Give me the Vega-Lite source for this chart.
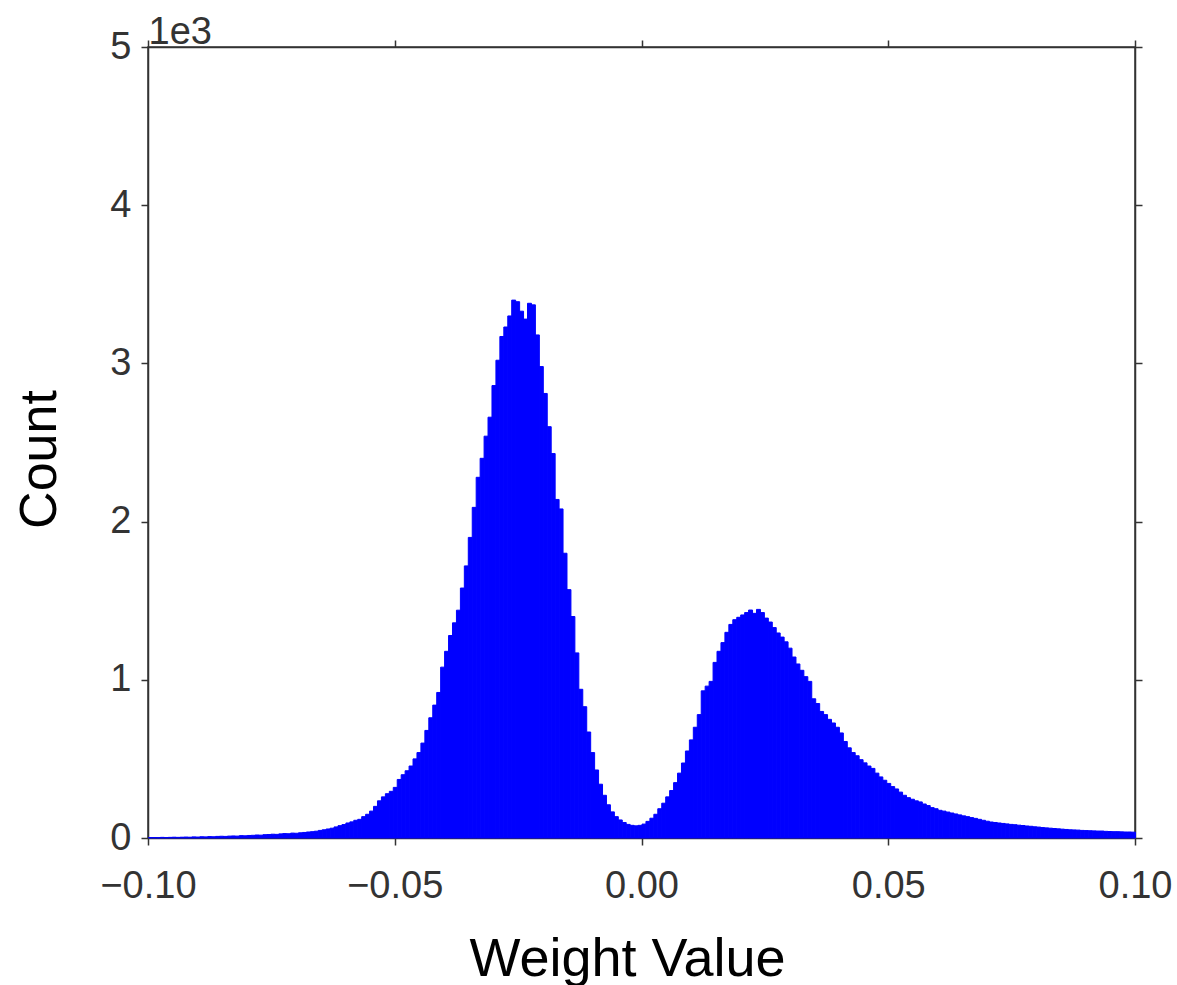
{
 "$schema": "https://vega.github.io/schema/vega-lite/v6.json",
 "width": 987, "height": 791,
 "autosize": {"type": "none"},
 "padding": {"left": 148, "top": 47, "right": 42, "bottom": 147},
 "background": "white",
 "config": {
  "view": {"stroke": "#333", "strokeWidth": 1.5},
  "font": "Liberation Sans",
  "axis": {"grid": false, "domainColor": "#333", "domainWidth": 1.5, "tickColor": "#333", "tickWidth": 1.5, "tickSize": 7,
   "labelFont": "Liberation Sans", "labelFontSize": 38, "labelColor": "#333", "labelFlush": false, "labelOverlap": false,
   "titleFont": "Liberation Sans", "titleFontSize": 52, "titleFontWeight": "normal", "titleColor": "#000"}
 },
 "data": {"values": [
{"lo":-0.1,"n":3},{"lo":-0.0992,"n":3},{"lo":-0.0984,"n":2},{"lo":-0.0976,"n":4},{"lo":-0.0968,"n":3},
{"lo":-0.096,"n":4},{"lo":-0.0952,"n":5},{"lo":-0.0944,"n":4},{"lo":-0.0936,"n":5},{"lo":-0.0928,"n":6},
{"lo":-0.092,"n":5},{"lo":-0.0912,"n":7},{"lo":-0.0904,"n":6},{"lo":-0.0896,"n":8},{"lo":-0.0888,"n":7},
{"lo":-0.088,"n":9},{"lo":-0.0872,"n":8},{"lo":-0.0864,"n":10},{"lo":-0.0856,"n":11},{"lo":-0.0848,"n":10},
{"lo":-0.084,"n":12},{"lo":-0.0832,"n":13},{"lo":-0.0824,"n":12},{"lo":-0.0816,"n":15},{"lo":-0.0808,"n":14},
{"lo":-0.08,"n":16},{"lo":-0.0792,"n":17},{"lo":-0.0784,"n":19},{"lo":-0.0776,"n":18},{"lo":-0.0768,"n":21},
{"lo":-0.076,"n":22},{"lo":-0.0752,"n":24},{"lo":-0.0744,"n":23},{"lo":-0.0736,"n":26},{"lo":-0.0728,"n":28},
{"lo":-0.072,"n":27},{"lo":-0.0712,"n":31},{"lo":-0.0704,"n":30},{"lo":-0.0696,"n":33},{"lo":-0.0688,"n":35},
{"lo":-0.068,"n":38},{"lo":-0.0672,"n":40},{"lo":-0.0664,"n":43},{"lo":-0.0656,"n":48},{"lo":-0.0648,"n":52},
{"lo":-0.064,"n":57},{"lo":-0.0632,"n":62},{"lo":-0.0624,"n":70},{"lo":-0.0616,"n":78},{"lo":-0.0608,"n":85},
{"lo":-0.06,"n":95},{"lo":-0.0592,"n":102},{"lo":-0.0584,"n":112},{"lo":-0.0576,"n":118},{"lo":-0.0568,"n":135},
{"lo":-0.056,"n":150},{"lo":-0.0552,"n":170},{"lo":-0.0544,"n":200},{"lo":-0.0536,"n":235},{"lo":-0.0528,"n":260},
{"lo":-0.052,"n":280},{"lo":-0.0512,"n":295},{"lo":-0.0504,"n":320},{"lo":-0.0496,"n":370},{"lo":-0.0488,"n":400},
{"lo":-0.048,"n":425},{"lo":-0.0472,"n":455},{"lo":-0.0464,"n":500},{"lo":-0.0456,"n":540},{"lo":-0.0448,"n":600},
{"lo":-0.044,"n":680},{"lo":-0.0432,"n":760},{"lo":-0.0424,"n":840},{"lo":-0.0416,"n":920},{"lo":-0.0408,"n":1080},
{"lo":-0.04,"n":1180},{"lo":-0.0392,"n":1280},{"lo":-0.0384,"n":1360},{"lo":-0.0376,"n":1440},{"lo":-0.0368,"n":1580},
{"lo":-0.036,"n":1720},{"lo":-0.0352,"n":1900},{"lo":-0.0344,"n":2090},{"lo":-0.0336,"n":2280},{"lo":-0.0328,"n":2400},
{"lo":-0.032,"n":2540},{"lo":-0.0312,"n":2660},{"lo":-0.0304,"n":2860},{"lo":-0.0296,"n":3020},{"lo":-0.0288,"n":3170},
{"lo":-0.028,"n":3230},{"lo":-0.0272,"n":3300},{"lo":-0.0264,"n":3400},{"lo":-0.0256,"n":3390},{"lo":-0.0248,"n":3330},
{"lo":-0.024,"n":3280},{"lo":-0.0232,"n":3380},{"lo":-0.0224,"n":3370},{"lo":-0.0216,"n":3180},{"lo":-0.0208,"n":2980},
{"lo":-0.02,"n":2810},{"lo":-0.0192,"n":2600},{"lo":-0.0184,"n":2430},{"lo":-0.0176,"n":2140},{"lo":-0.0168,"n":2080},
{"lo":-0.016,"n":1800},{"lo":-0.0152,"n":1570},{"lo":-0.0144,"n":1400},{"lo":-0.0136,"n":1170},{"lo":-0.0128,"n":940},
{"lo":-0.012,"n":830},{"lo":-0.0112,"n":670},{"lo":-0.0104,"n":540},{"lo":-0.0096,"n":430},{"lo":-0.0088,"n":340},
{"lo":-0.008,"n":270},{"lo":-0.0072,"n":210},{"lo":-0.0064,"n":165},{"lo":-0.0056,"n":135},{"lo":-0.0048,"n":114},
{"lo":-0.004,"n":98},{"lo":-0.0032,"n":86},{"lo":-0.0024,"n":80},{"lo":-0.0016,"n":77},{"lo":-0.0008,"n":80},
{"lo":0,"n":88},{"lo":0.0008,"n":105},{"lo":0.0016,"n":125},{"lo":0.0024,"n":150},{"lo":0.0032,"n":185},
{"lo":0.004,"n":220},{"lo":0.0048,"n":260},{"lo":0.0056,"n":300},{"lo":0.0064,"n":350},{"lo":0.0072,"n":410},
{"lo":0.008,"n":474},{"lo":0.0088,"n":550},{"lo":0.0096,"n":620},{"lo":0.0104,"n":700},{"lo":0.0112,"n":780},
{"lo":0.012,"n":930},{"lo":0.0128,"n":960},{"lo":0.0136,"n":990},{"lo":0.0144,"n":1110},{"lo":0.0152,"n":1180},
{"lo":0.016,"n":1235},{"lo":0.0168,"n":1300},{"lo":0.0176,"n":1350},{"lo":0.0184,"n":1380},{"lo":0.0192,"n":1395},
{"lo":0.02,"n":1410},{"lo":0.0208,"n":1425},{"lo":0.0216,"n":1441},{"lo":0.0224,"n":1420},{"lo":0.0232,"n":1445},
{"lo":0.024,"n":1425},{"lo":0.0248,"n":1390},{"lo":0.0256,"n":1365},{"lo":0.0264,"n":1330},{"lo":0.0272,"n":1296},
{"lo":0.028,"n":1270},{"lo":0.0288,"n":1240},{"lo":0.0296,"n":1200},{"lo":0.0304,"n":1144},{"lo":0.0312,"n":1100},
{"lo":0.032,"n":1060},{"lo":0.0328,"n":1020},{"lo":0.0336,"n":990},{"lo":0.0344,"n":880},{"lo":0.0352,"n":850},
{"lo":0.036,"n":800},{"lo":0.0368,"n":780},{"lo":0.0376,"n":750},{"lo":0.0384,"n":727},{"lo":0.0392,"n":700},
{"lo":0.04,"n":664},{"lo":0.0408,"n":610},{"lo":0.0416,"n":570},{"lo":0.0424,"n":540},{"lo":0.0432,"n":520},
{"lo":0.044,"n":495},{"lo":0.0448,"n":475},{"lo":0.0456,"n":455},{"lo":0.0464,"n":440},{"lo":0.0472,"n":410},
{"lo":0.048,"n":386},{"lo":0.0488,"n":365},{"lo":0.0496,"n":345},{"lo":0.0504,"n":325},{"lo":0.0512,"n":310},
{"lo":0.052,"n":290},{"lo":0.0528,"n":270},{"lo":0.0536,"n":255},{"lo":0.0544,"n":245},{"lo":0.0552,"n":235},
{"lo":0.056,"n":228},{"lo":0.0568,"n":215},{"lo":0.0576,"n":205},{"lo":0.0584,"n":192},{"lo":0.0592,"n":185},
{"lo":0.06,"n":175},{"lo":0.0608,"n":170},{"lo":0.0616,"n":164},{"lo":0.0624,"n":158},{"lo":0.0632,"n":152},
{"lo":0.064,"n":146},{"lo":0.0648,"n":140},{"lo":0.0656,"n":135},{"lo":0.0664,"n":129},{"lo":0.0672,"n":124},
{"lo":0.068,"n":118},{"lo":0.0688,"n":112},{"lo":0.0696,"n":106},{"lo":0.0704,"n":101},{"lo":0.0712,"n":98},
{"lo":0.072,"n":95},{"lo":0.0728,"n":92},{"lo":0.0736,"n":89},{"lo":0.0744,"n":86},{"lo":0.0752,"n":84},
{"lo":0.076,"n":81},{"lo":0.0768,"n":79},{"lo":0.0776,"n":76},{"lo":0.0784,"n":74},{"lo":0.0792,"n":71},
{"lo":0.08,"n":69},{"lo":0.0808,"n":66},{"lo":0.0816,"n":64},{"lo":0.0824,"n":62},{"lo":0.0832,"n":60},
{"lo":0.084,"n":58},{"lo":0.0848,"n":56},{"lo":0.0856,"n":54},{"lo":0.0864,"n":52},{"lo":0.0872,"n":51},
{"lo":0.088,"n":50},{"lo":0.0888,"n":48},{"lo":0.0896,"n":47},{"lo":0.0904,"n":46},{"lo":0.0912,"n":45},
{"lo":0.092,"n":44},{"lo":0.0928,"n":44},{"lo":0.0936,"n":42},{"lo":0.0944,"n":41},{"lo":0.0952,"n":40},
{"lo":0.096,"n":40},{"lo":0.0968,"n":39},{"lo":0.0976,"n":38},{"lo":0.0984,"n":38},{"lo":0.0992,"n":37}
 ]},
 "layer": [
  {
   "mark": {"type": "bar", "color": "#0000ff", "stroke": "#0000ff", "strokeWidth": 1, "binSpacing": 0},
   "encoding": {
    "x": {"field": "lo", "type": "quantitative", "bin": {"binned": true, "step": 0.0008},
     "scale": {"domain": [-0.1, 0.1], "nice": false, "zero": false},
     "axis": {"orient": "bottom", "values": [-0.1, -0.05, 0, 0.05, 0.1], "format": ".2f",
      "labelBaseline": "alphabetic", "labelPadding": 52,
      "title": "Weight Value", "titleFontSize": 54, "titleBaseline": "alphabetic", "titleY": 137, "titleX": 479, "titleAnchor": "middle"}},
    "y": {"field": "n", "type": "quantitative",
     "scale": {"domain": [0, 5000], "nice": false},
     "axis": {"orient": "left", "values": [0, 1000, 2000, 3000, 4000, 5000], "labelExpr": "format(datum.value/1000, 'd')",
      "labelPadding": 10, "title": "Count", "titleAngle": 270, "titleBaseline": "alphabetic", "titleX": -93, "titleY": 412, "titleAnchor": "middle"}}
   }
  },
  {
   "mark": {"type": "point", "opacity": 0},
   "encoding": {
    "x": {"field": "lo", "type": "quantitative", "axis": {"orient": "top", "values": [-0.1, -0.05, 0, 0.05, 0.1], "labels": false,
     "title": "1e3", "titleX": 0, "titleY": -4, "titleAlign": "left", "titleAnchor": "start", "titleAngle": 0, "titleBaseline": "alphabetic",
     "titleFontSize": 38, "titleColor": "#333"}},
    "y": {"field": "n", "type": "quantitative", "axis": {"orient": "right", "values": [0, 1000, 2000, 3000, 4000, 5000], "labels": false, "title": null}}
   }
  }
 ],
 "resolve": {"axis": {"x": "independent", "y": "independent"}}
}
